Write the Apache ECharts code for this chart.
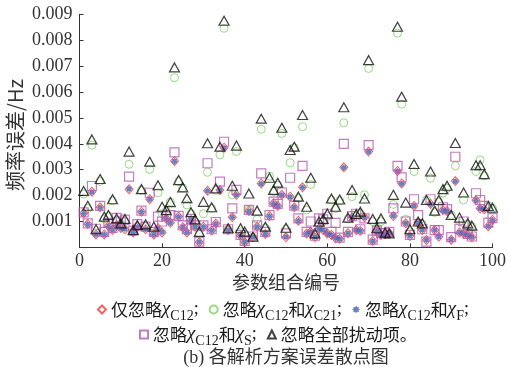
<!DOCTYPE html>
<html>
<head>
<meta charset="utf-8">
<script src="https://cdn.jsdelivr.net/npm/echarts@6/dist/echarts.min.js"></script>
<style>
  html, body { margin: 0; padding: 0; background: #fff; }
  #chart { width: 509px; height: 367px; }
</style>
</head>
<body>
<div id="chart"></div>
<script>
// Parameter combination numbers 1..100
const caseNo = Array.from({ length: 100 }, (_, i) => i + 1);

// Frequency error (Hz) of each analytical scheme, one value per combination
const onlyC12 = [
  0.00132, 0.00090, 0.00215, 0.00050, 0.00155, 0.00050, 0.00083, 0.00067, 0.00086, 0.00075,
  0.00070, 0.00225, 0.00058, 0.00080, 0.00138, 0.00070, 0.00186, 0.00050, 0.00074, 0.00058,
  0.00112, 0.00095, 0.00334, 0.00119, 0.00078, 0.00058, 0.00106, 0.00080, 0.00020, 0.00080,
  0.00219, 0.00065, 0.00092, 0.00222, 0.00385, 0.00067, 0.00116, 0.00203, 0.00045, 0.00020,
  0.00141, 0.00039, 0.00080, 0.00247, 0.00052, 0.00121, 0.00170, 0.00160, 0.00203, 0.00039,
  0.00196, 0.00155, 0.00103, 0.00232, 0.00054, 0.00060, 0.00039, 0.00073, 0.00067, 0.00054,
  0.00048, 0.00035, 0.00033, 0.00309, 0.00055, 0.00115, 0.00067, 0.00064, 0.00116, 0.00370,
  0.00025, 0.00061, 0.00048, 0.00051, 0.00055, 0.00121, 0.00295, 0.00247, 0.00093, 0.00044,
  0.00160, 0.00095, 0.00067, 0.00029, 0.00168, 0.00067, 0.00041, 0.00144, 0.00141, 0.00030,
  0.00256, 0.00058, 0.00054, 0.00048, 0.00039, 0.00182, 0.00150, 0.00147, 0.00082, 0.00106
];
const noC12C21 = [
  0.00206, 0.00150, 0.00395, 0.00055, 0.00255, 0.00110, 0.00120, 0.00180, 0.00105, 0.00090,
  0.00100, 0.00321, 0.00060, 0.00080, 0.00220, 0.00080, 0.00301, 0.00055, 0.00211, 0.00130,
  0.00140, 0.00175, 0.00655, 0.00255, 0.00230, 0.00164, 0.00130, 0.00100, 0.00050, 0.00130,
  0.00290, 0.00150, 0.00220, 0.00357, 0.00846, 0.00070, 0.00203, 0.00370, 0.00060, 0.00050,
  0.00145, 0.00040, 0.00108, 0.00456, 0.00075, 0.00275, 0.00215, 0.00240, 0.00440, 0.00070,
  0.00327, 0.00385, 0.00190, 0.00466, 0.00144, 0.00243, 0.00050, 0.00090, 0.00100, 0.00120,
  0.00183, 0.00150, 0.00180, 0.00481, 0.00110, 0.00196, 0.00120, 0.00130, 0.00203, 0.00691,
  0.00100, 0.00070, 0.00100, 0.00050, 0.00050, 0.00166, 0.00827, 0.00553, 0.00108, 0.00060,
  0.00293, 0.00095, 0.00090, 0.00183, 0.00267, 0.00135, 0.00175, 0.00210, 0.00228, 0.00125,
  0.00315, 0.00100, 0.00183, 0.00090, 0.00080, 0.00293, 0.00338, 0.00276, 0.00160, 0.00151
];
const noC12F = [
  0.00131, 0.00089, 0.00214, 0.00051, 0.00154, 0.00050, 0.00082, 0.00067, 0.00085, 0.00074,
  0.00071, 0.00226, 0.00058, 0.00079, 0.00138, 0.00070, 0.00186, 0.00051, 0.00074, 0.00059,
  0.00112, 0.00094, 0.00333, 0.00118, 0.00078, 0.00058, 0.00105, 0.00080, 0.00021, 0.00080,
  0.00219, 0.00065, 0.00091, 0.00222, 0.00384, 0.00066, 0.00116, 0.00202, 0.00045, 0.00021,
  0.00140, 0.00039, 0.00080, 0.00246, 0.00052, 0.00120, 0.00169, 0.00160, 0.00202, 0.00040,
  0.00195, 0.00155, 0.00103, 0.00231, 0.00054, 0.00060, 0.00040, 0.00073, 0.00067, 0.00054,
  0.00048, 0.00036, 0.00033, 0.00308, 0.00055, 0.00115, 0.00067, 0.00064, 0.00115, 0.00369,
  0.00025, 0.00061, 0.00048, 0.00051, 0.00055, 0.00121, 0.00294, 0.00246, 0.00093, 0.00045,
  0.00160, 0.00095, 0.00067, 0.00029, 0.00167, 0.00067, 0.00041, 0.00143, 0.00140, 0.00031,
  0.00255, 0.00058, 0.00054, 0.00048, 0.00039, 0.00181, 0.00150, 0.00146, 0.00082, 0.00105
];
const noC12S = [
  0.00135, 0.00093, 0.00237, 0.00072, 0.00160, 0.00060, 0.00095, 0.00075, 0.00114, 0.00100,
  0.00107, 0.00273, 0.00065, 0.00090, 0.00142, 0.00080, 0.00211, 0.00060, 0.00119, 0.00100,
  0.00120, 0.00125, 0.00367, 0.00122, 0.00085, 0.00070, 0.00110, 0.00085, 0.00022, 0.00085,
  0.00325, 0.00070, 0.00098, 0.00254, 0.00408, 0.00070, 0.00151, 0.00222, 0.00048, 0.00025,
  0.00145, 0.00042, 0.00085, 0.00286, 0.00060, 0.00125, 0.00177, 0.00168, 0.00212, 0.00054,
  0.00269, 0.00161, 0.00112, 0.00315, 0.00060, 0.00100, 0.00045, 0.00112, 0.00108, 0.00130,
  0.00060, 0.00095, 0.00038, 0.00400, 0.00060, 0.00121, 0.00130, 0.00070, 0.00112, 0.00395,
  0.00030, 0.00065, 0.00055, 0.00055, 0.00060, 0.00151, 0.00315, 0.00270, 0.00100, 0.00048,
  0.00186, 0.00125, 0.00070, 0.00022, 0.00186, 0.00067, 0.00067, 0.00155, 0.00148, 0.00040,
  0.00350, 0.00072, 0.00100, 0.00052, 0.00042, 0.00209, 0.00183, 0.00160, 0.00096, 0.00113
];
const noAll = [
  0.00218, 0.00161, 0.00417, 0.00070, 0.00264, 0.00119, 0.00125, 0.00186, 0.00112, 0.00093,
  0.00110, 0.00370, 0.00067, 0.00086, 0.00225, 0.00089, 0.00331, 0.00080, 0.00240, 0.00157,
  0.00144, 0.00175, 0.00695, 0.00260, 0.00232, 0.00190, 0.00136, 0.00108, 0.00060, 0.00176,
  0.00402, 0.00155, 0.00228, 0.00389, 0.00875, 0.00074, 0.00238, 0.00393, 0.00074, 0.00061,
  0.00208, 0.00041, 0.00142, 0.00497, 0.00080, 0.00269, 0.00222, 0.00250, 0.00462, 0.00076,
  0.00376, 0.00389, 0.00196, 0.00511, 0.00157, 0.00269, 0.00054, 0.00100, 0.00110, 0.00131,
  0.00189, 0.00157, 0.00185, 0.00541, 0.00115, 0.00222, 0.00129, 0.00138, 0.00189, 0.00723,
  0.00110, 0.00074, 0.00112, 0.00057, 0.00054, 0.00203, 0.00852, 0.00582, 0.00173, 0.00070,
  0.00322, 0.00100, 0.00093, 0.00183, 0.00293, 0.00142, 0.00183, 0.00225, 0.00238, 0.00125,
  0.00403, 0.00115, 0.00212, 0.00093, 0.00084, 0.00317, 0.00317, 0.00283, 0.00160, 0.00153
];

// Series names and their legend labels (χ with subscripts as rich text)
const names = ['仅忽略χC12', '忽略χC12和χC21', '忽略χC12和χF', '忽略χC12和χS', '忽略全部扰动项'];
const legendText = {
  '仅忽略χC12': '{t|仅忽略}{x|χ}{s|C12}{p|;}',
  '忽略χC12和χC21': '{t|忽略}{x|χ}{s|C12}{t|和}{x|χ}{s|C21}{p|;}',
  '忽略χC12和χF': '{t|忽略}{x|χ}{s|C12}{t|和}{x|χ}{s|F}{p|;}',
  '忽略χC12和χS': '{t|忽略}{x|χ}{s|C12}{t|和}{x|χ}{s|S}{p|;}',
  '忽略全部扰动项': '{t|忽略全部扰动项。}'
};

const SERIF = "'Liberation Serif', 'Times New Roman', 'Noto Sans CJK SC', serif";
const CJK = "'Noto Sans CJK SC', 'Liberation Serif', sans-serif";
const STAR = 'path://M0,-10 L2.4,-5.8 L7.07,-7.07 L5.8,-2.4 L10,0 L5.8,2.4 L7.07,7.07 L2.4,5.8 L0,10 L-2.4,5.8 L-7.07,7.07 L-5.8,2.4 L-10,0 L-5.8,-2.4 L-7.07,-7.07 L-2.4,-5.8 Z';

function pairs(values) {
  return caseNo.map((n, i) => [n, values[i]]);
}

const richLegend = {
  t: { fontFamily: CJK, fontSize: 17, color: '#1a1a1a', lineHeight: 20 },
  p: { fontFamily: SERIF, fontSize: 18, color: '#1a1a1a', lineHeight: 20 },
  x: { fontFamily: SERIF, fontSize: 19, fontStyle: 'italic', color: '#1a1a1a', lineHeight: 20 },
  s: { fontFamily: SERIF, fontSize: 14, color: '#1a1a1a', lineHeight: 20, padding: [13, 0, 0, 0] }
};

const chart = echarts.init(document.getElementById('chart'), null, { renderer: 'canvas' });
chart.setOption({
  animation: false,
  backgroundColor: '#fff',
  grid: { left: 79.5, right: 15.7, top: 14.3, bottom: 119.6, containLabel: false },
  xAxis: {
    type: 'value', min: 0, max: 100, interval: 20,
    axisLine: { show: true, onZero: false, lineStyle: { color: '#333', width: 1 } },
    axisTick: { show: true, inside: true, length: 4, lineStyle: { color: '#333' } },
    axisLabel: { fontFamily: SERIF, fontSize: 18, color: '#333', margin: 5 },
    splitLine: { show: false }
  },
  yAxis: {
    type: 'value', min: 0, max: 0.009, interval: 0.001,
    axisLine: { show: true, onZero: false, lineStyle: { color: '#333', width: 1 } },
    axisTick: { show: true, inside: true, length: 4, lineStyle: { color: '#333' } },
    axisLabel: {
      fontFamily: SERIF, fontSize: 18, color: '#333', margin: 7,
      formatter: v => (v === 0 ? '' : v.toFixed(3))
    },
    splitLine: { show: false }
  },
  legend: [
    {
      data: names.slice(0, 3), left: 97, top: 296, padding: 0,
      itemWidth: 8, itemHeight: 8, itemGap: 10,
      formatter: n => legendText[n],
      textStyle: { rich: richLegend }
    },
    {
      data: names.slice(3), left: 139, top: 321, padding: 0,
      itemWidth: 8, itemHeight: 8, itemGap: 10,
      formatter: n => legendText[n],
      textStyle: { rich: richLegend }
    }
  ],
  graphic: [
    {
      type: 'text', x: 15, y: 135, rotation: Math.PI / 2,
      style: { text: '频率误差/Hz', font: "20px 'Noto Sans CJK SC', 'Liberation Serif'", fill: '#333', align: 'center', verticalAlign: 'middle' }
    },
    {
      type: 'text', x: 286, y: 282,
      style: { text: '参数组合编号', font: "18px 'Noto Sans CJK SC'", fill: '#333', align: 'center', verticalAlign: 'middle' }
    },
    {
      type: 'text', x: 286, y: 358,
      style: { text: '(b) 各解析方案误差散点图', font: "18px 'Liberation Serif', 'Noto Sans CJK SC'", fill: '#333', align: 'center', verticalAlign: 'middle' }
    }
  ],
  series: [
    {
      name: names[1], type: 'scatter', data: pairs(noC12C21), symbol: 'circle', symbolSize: 8,
      itemStyle: { color: 'rgba(0,0,0,0)', borderColor: '#7fd062', borderWidth: 1 }, z: 2
    },
    {
      name: names[0], type: 'scatter', data: pairs(onlyC12), symbol: 'diamond', symbolSize: [8, 9],
      itemStyle: { color: 'rgba(0,0,0,0)', borderColor: '#f03c3c', borderWidth: 1 }, z: 3
    },
    {
      name: names[2], type: 'scatter', data: pairs(noC12F), symbol: STAR, symbolSize: 7,
      itemStyle: { color: '#3c64b4' }, z: 4
    },
    {
      name: names[3], type: 'scatter', data: pairs(noC12S), symbol: 'rect', symbolSize: 9,
      itemStyle: { color: 'rgba(0,0,0,0)', borderColor: '#b45ab4', borderWidth: 1.2 }, z: 5
    },
    {
      name: names[4], type: 'scatter', data: pairs(noAll), symbol: 'triangle', symbolSize: [10, 9],
      itemStyle: { color: 'rgba(0,0,0,0)', borderColor: '#111', borderWidth: 1.2 }, z: 6
    }
  ]
});
</script>
</body>
</html>
